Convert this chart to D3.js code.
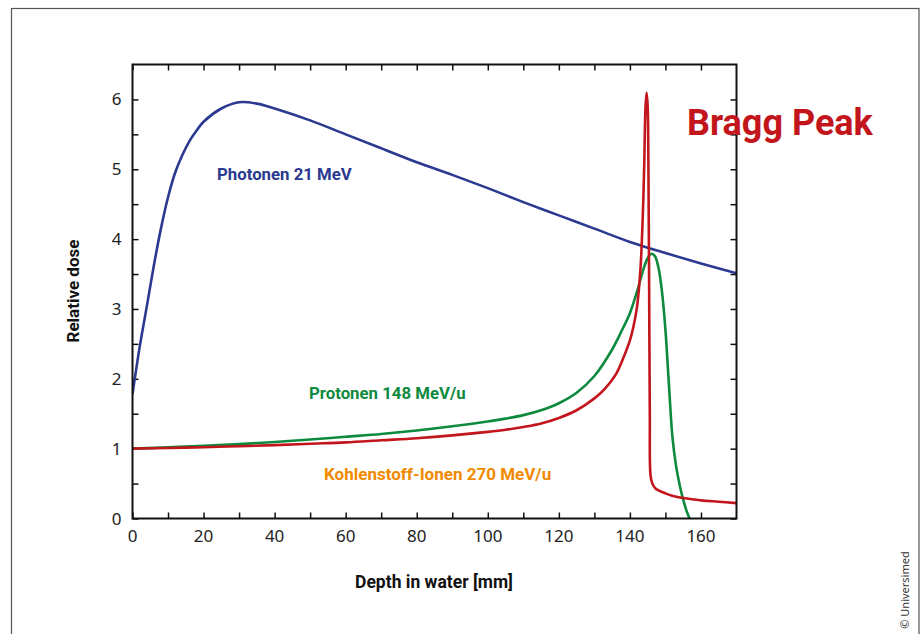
<!DOCTYPE html>
<html>
<head>
<meta charset="utf-8">
<script src="https://cdn.jsdelivr.net/npm/d3@7"></script>
<style>
  body { margin: 0; background: #fff; }
  .tick-label { font-family: "Noto Sans", "Open Sans", sans-serif; font-size: 17px; fill: #222; }
  .lbl { font-family: Roboto, "Noto Sans", sans-serif; font-weight: bold; }
</style>
</head>
<body>
<script>
// depth (mm) and relative dose
var photonDepth = [0, 2, 4, 6, 8, 10, 12, 14, 16, 18, 20, 25, 30, 35, 40, 50, 60, 70, 80, 90, 100, 110, 120, 130, 140, 150, 160, 170];
var photonDose  = [1.78, 2.45, 3.03, 3.62, 4.15, 4.6, 4.95, 5.2, 5.4, 5.55, 5.68, 5.87, 5.96, 5.94, 5.87, 5.7, 5.5, 5.3, 5.1, 4.92, 4.73, 4.53, 4.34, 4.15, 3.96, 3.8, 3.65, 3.51];

var protonDepth = [0, 10, 20, 30, 40, 50, 60, 70, 80, 90, 100, 105, 110, 115, 120, 125, 130, 135, 138, 140, 142, 144, 145, 146, 147, 148, 149, 150, 151, 152, 153, 154, 155, 156, 156.8];
var protonDose  = [1.0, 1.02, 1.04, 1.065, 1.095, 1.13, 1.17, 1.21, 1.26, 1.32, 1.39, 1.43, 1.48, 1.55, 1.65, 1.8, 2.04, 2.42, 2.72, 2.94, 3.25, 3.6, 3.73, 3.79, 3.76, 3.6, 3.26, 2.7, 1.9, 1.15, 0.75, 0.48, 0.27, 0.1, 0];

var carbonDepth = [0, 10, 20, 30, 40, 50, 60, 70, 80, 90, 100, 105, 110, 115, 120, 125, 130, 133, 136, 138, 140, 141, 142, 143, 143.6, 144, 144.4, 144.7, 145, 145.2, 145.4, 145.6, 145.8, 146.3, 147.2, 150, 153, 160, 165, 170];
var carbonDose  = [1.0, 1.01, 1.02, 1.035, 1.05, 1.07, 1.09, 1.12, 1.15, 1.19, 1.24, 1.27, 1.31, 1.36, 1.44, 1.55, 1.72, 1.86, 2.06, 2.28, 2.55, 2.75, 3.03, 3.6, 4.3, 5.0, 5.9, 6.1, 5.9, 5.1, 3.4, 1.5, 0.62, 0.5, 0.43, 0.36, 0.31, 0.26, 0.24, 0.22];

var xTicks = [0, 20, 40, 60, 80, 100, 120, 140, 160];
var yTicks = [0, 1, 2, 3, 4, 5, 6];

var width = 923, height = 634;
var margin = {top: 64.5, right: 186.5, bottom: 115.5, left: 132.5};

var svg = d3.select("body").append("svg")
    .attr("width", width)
    .attr("height", height);

//outer frame
svg.append("rect")
    .attr("x", 11.5).attr("y", 8.5)
    .attr("width", 907.5).attr("height", 640)
    .attr("fill", "none")
    .attr("stroke", "#555")
    .attr("stroke-width", 1.2);

var x = d3.scaleLinear().domain([0, 170]).range([margin.left, width - margin.right]);
var y = d3.scaleLinear().domain([0, 6.5]).range([height - margin.bottom, margin.top]);

var minorX = d3.range(0, 170, 10);
var minorY = d3.range(0, 6.5, 0.5);

//axes with inward ticks
var g = svg.append("g");
function noDomain(sel) { sel.select(".domain").remove(); sel.selectAll("line").attr("stroke", "#111").attr("stroke-width", 1.5); }

g.append("g")
    .attr("transform", "translate(0," + y(0) + ")")
    .call(d3.axisTop(x).tickValues(minorX).tickSize(6).tickFormat(""))
    .call(noDomain);
g.append("g")
    .attr("transform", "translate(0," + y(6.5) + ")")
    .call(d3.axisBottom(x).tickValues(minorX).tickSize(6).tickFormat(""))
    .call(noDomain);
g.append("g")
    .attr("transform", "translate(" + x(0) + ",0)")
    .call(d3.axisRight(y).tickValues(minorY).tickSize(6).tickFormat(""))
    .call(noDomain);
g.append("g")
    .attr("transform", "translate(" + x(170) + ",0)")
    .call(d3.axisLeft(y).tickValues(minorY).tickSize(6).tickFormat(""))
    .call(noDomain);

//tick labels
svg.selectAll(".xlab")
    .data(xTicks)
    .enter().append("text")
    .attr("class", "tick-label")
    .attr("x", d => x(d))
    .attr("y", y(0) + 23)
    .attr("text-anchor", "middle")
    .text(d => d);

svg.selectAll(".ylab")
    .data(yTicks)
    .enter().append("text")
    .attr("class", "tick-label")
    .attr("x", x(0) - 11)
    .attr("y", d => y(d) + 6)
    .attr("text-anchor", "end")
    .text(d => d);

//curves
svg.append("clipPath").attr("id", "plot")
    .append("rect")
    .attr("x", x(0)).attr("y", y(6.5))
    .attr("width", x(170) - x(0)).attr("height", y(0) - y(6.5));

function drawLine(xs, ys, color) {
    var line = d3.line()
        .x((d, i) => x(xs[i]))
        .y(d => y(d))
        .curve(d3.curveCatmullRom.alpha(0.5));
    svg.append("path")
        .datum(ys)
        .attr("d", line)
        .attr("fill", "none")
        .attr("stroke", color)
        .attr("stroke-width", 2.6)
        .attr("stroke-linejoin", "round")
        .attr("clip-path", "url(#plot)");
}
drawLine(photonDepth, photonDose, "#2b3990");
drawLine(protonDepth, protonDose, "#0e8a3e");
drawLine(carbonDepth, carbonDose, "#c2161c");

//frame
svg.append("rect")
    .attr("x", x(0)).attr("y", y(6.5))
    .attr("width", x(170) - x(0)).attr("height", y(0) - y(6.5))
    .attr("fill", "none")
    .attr("stroke", "#111")
    .attr("stroke-width", 2);

//curve labels
svg.append("text").attr("class", "lbl")
    .attr("x", 217).attr("y", 180)
    .attr("font-size", 16.8).attr("fill", "#2b3990")
    .text("Photonen 21 MeV");
svg.append("text").attr("class", "lbl")
    .attr("x", 309).attr("y", 399)
    .attr("font-size", 16.8).attr("fill", "#0e8a3e")
    .text("Protonen 148 MeV/u");
svg.append("text").attr("class", "lbl")
    .attr("x", 324).attr("y", 480)
    .attr("font-size", 17).attr("fill", "#f08a00")
    .text("Kohlenstoff-Ionen 270 MeV/u");
svg.append("text").attr("class", "lbl")
    .attr("x", 687).attr("y", 135)
    .attr("font-size", 36).attr("fill", "#c2161c")
    .text("Bragg Peak");

//axis titles
svg.append("text").attr("class", "lbl")
    .attr("transform", "translate(79,291) rotate(-90)")
    .attr("text-anchor", "middle")
    .attr("font-size", 17).attr("fill", "#111")
    .text("Relative dose");
svg.append("text").attr("class", "lbl")
    .attr("x", 434).attr("y", 588)
    .attr("text-anchor", "middle")
    .attr("font-size", 17.5).attr("fill", "#111")
    .text("Depth in water [mm]");

svg.append("text")
    .attr("transform", "translate(909,590) rotate(-90)")
    .attr("text-anchor", "middle")
    .attr("font-family", "'Noto Sans', sans-serif")
    .attr("font-size", 11).attr("fill", "#333")
    .text("© Universimed");
</script>
</body>
</html>
